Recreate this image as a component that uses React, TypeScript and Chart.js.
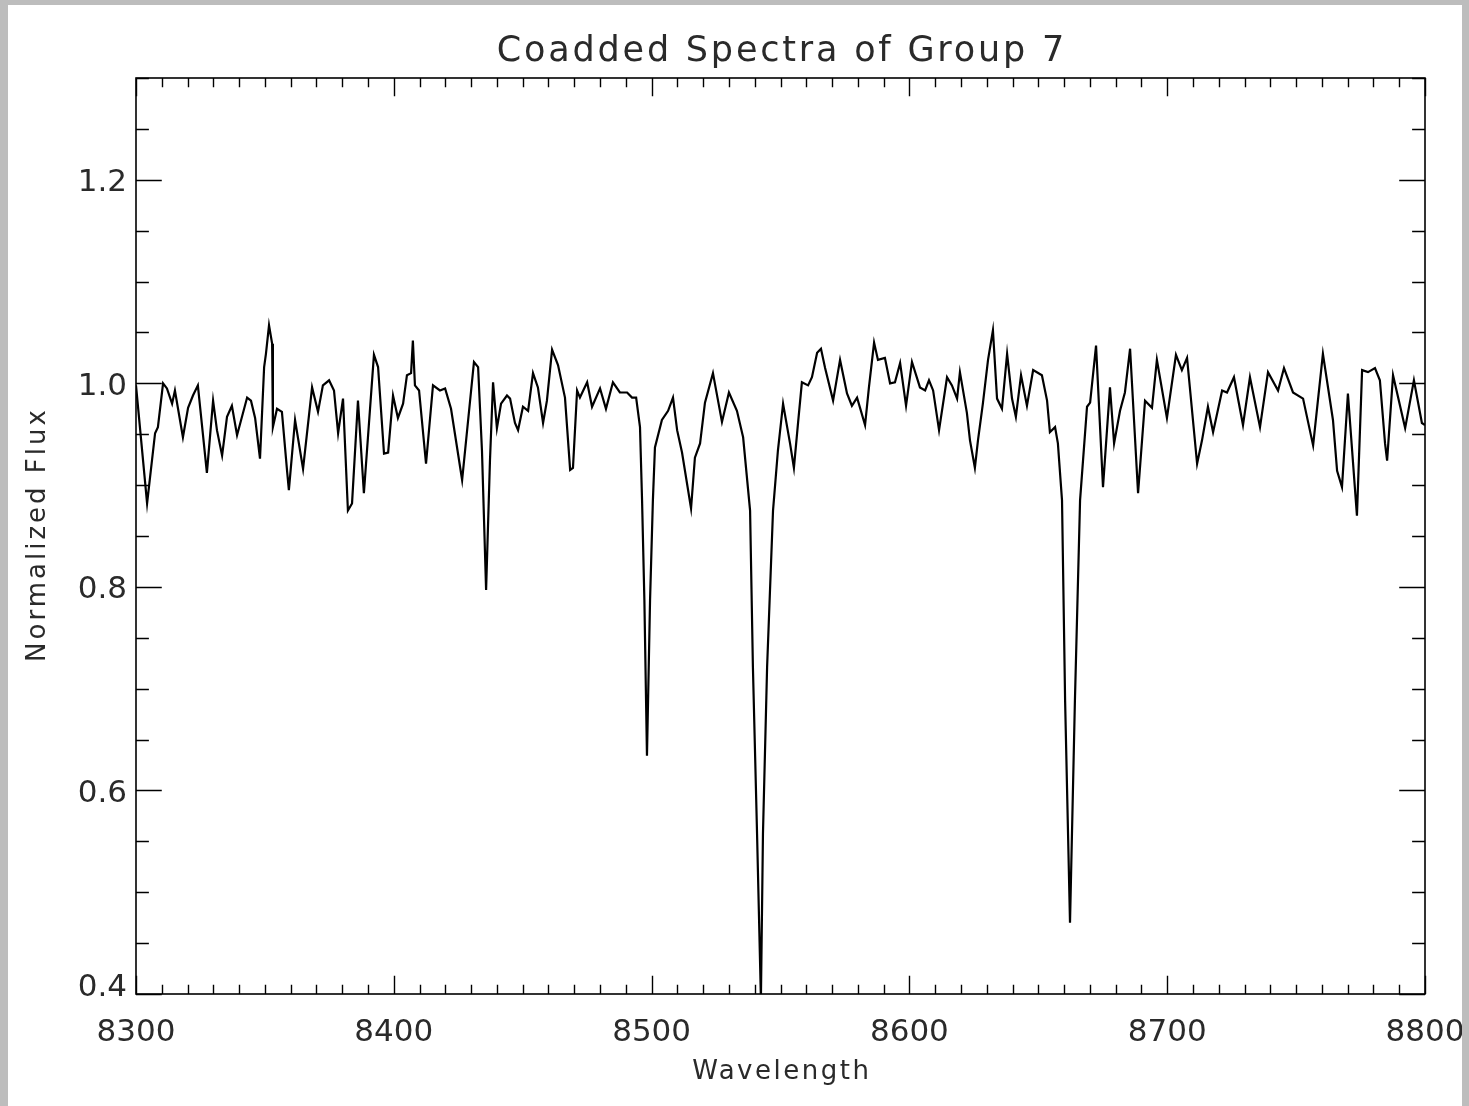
import React, { useEffect, useRef } from "react";
import { Chart, registerables } from "chart.js";

Chart.register(...registerables);

const titleText = "Coadded Spectra of Group 7";
const xAxisTitle = "Wavelength";
const yAxisTitle = "Normalized Flux";

const xMin = 8300;
const xMax = 8800;
const yMin = 0.4;
const yMax = 1.3;
const xTickValues = [8300, 8400, 8500, 8600, 8700, 8800];
const xTickLabels = ["8300", "8400", "8500", "8600", "8700", "8800"];
const yTickValues = [0.4, 0.6, 0.8, 1.0, 1.2];
const yTickLabels = ["0.4", "0.6", "0.8", "1.0", "1.2"];
const xMinorStep = 10;
const yMinorStep = 0.05;

const wavelengths = [
  8300.0, 8304.3, 8307.4, 8308.5, 8310.5, 8312.0, 8314.0, 8315.1, 8318.2, 8320.2,
  8322.1, 8324.0, 8327.5, 8329.9, 8331.4, 8333.4, 8335.3, 8337.2, 8339.2, 8343.1,
  8344.6, 8346.2, 8348.1, 8349.7, 8350.4, 8351.6, 8352.8, 8353.1, 8354.7, 8356.6,
  8358.6, 8359.3, 8361.7, 8364.8, 8368.3, 8370.6, 8372.5, 8374.9, 8376.8, 8378.4,
  8380.3, 8382.2, 8383.8, 8386.1, 8388.4, 8392.3, 8393.9, 8396.2, 8397.8, 8399.7,
  8401.6, 8403.6, 8405.1, 8406.7, 8407.4, 8408.2, 8409.8, 8412.5, 8415.2, 8417.9,
  8419.9, 8422.2, 8426.5, 8431.1, 8432.7, 8434.2, 8435.8, 8437.3, 8438.5, 8440.0,
  8441.6, 8443.9, 8445.1, 8447.0, 8448.2, 8450.1, 8452.1, 8454.0, 8455.9, 8457.9,
  8459.4, 8461.4, 8463.7, 8466.4, 8468.4, 8469.5, 8471.1, 8472.2, 8475.0, 8476.9,
  8480.0, 8482.3, 8485.0, 8487.7, 8490.5, 8492.4, 8494.0, 8495.5, 8496.3, 8497.2,
  8498.2, 8499.4, 8500.5, 8501.3, 8504.0, 8506.4, 8508.3, 8509.9, 8511.8, 8515.3,
  8516.8, 8518.8, 8520.7, 8523.8, 8527.3, 8530.0, 8533.1, 8535.5, 8538.2, 8539.3,
  8540.9, 8542.4, 8543.2, 8544.8, 8547.1, 8549.0, 8551.0, 8553.7, 8555.2, 8556.8,
  8558.3, 8560.7, 8562.2, 8564.2, 8565.7, 8567.3, 8570.4, 8573.1, 8575.8, 8577.7,
  8579.7, 8582.8, 8584.3, 8586.3, 8587.8, 8590.5, 8592.5, 8594.4, 8596.4, 8598.7,
  8601.0, 8604.1, 8606.1, 8607.6, 8609.2, 8611.5, 8614.6, 8616.5, 8618.5, 8619.6,
  8622.3, 8623.5, 8625.4, 8626.6, 8628.5, 8630.5, 8632.4, 8634.0, 8635.9, 8637.9,
  8639.8, 8641.3, 8643.3, 8645.6, 8648.0, 8651.4, 8653.4, 8654.5, 8656.5, 8657.6,
  8659.2, 8660.4, 8662.3, 8664.2, 8666.2, 8668.9, 8670.1, 8672.4, 8675.1, 8677.8,
  8679.4, 8681.7, 8683.6, 8685.6, 8688.7, 8691.4, 8694.1, 8696.0, 8699.9, 8703.4,
  8705.7, 8707.7, 8711.6, 8713.5, 8715.8, 8717.8, 8721.3, 8723.2, 8725.9, 8729.4,
  8732.1, 8736.0, 8739.1, 8743.0, 8745.3, 8748.8, 8752.7, 8756.6, 8760.4, 8764.3,
  8765.9, 8767.8, 8770.1, 8773.6, 8775.6, 8777.9, 8780.6, 8782.5, 8784.5, 8785.3,
  8787.6, 8792.3, 8795.7, 8798.8, 8800.0,
];

const flux = [
  0.998, 0.882, 0.951, 0.957, 1.000, 0.995, 0.980, 0.993, 0.947, 0.976,
  0.988, 0.998, 0.912, 0.983, 0.954, 0.929, 0.967, 0.978, 0.949, 0.986,
  0.983, 0.966, 0.926, 1.016, 1.029, 1.057, 1.039, 0.957, 0.975, 0.972,
  0.914, 0.895, 0.964, 0.916, 0.996, 0.972, 0.998, 1.003, 0.993, 0.951,
  0.985, 0.875, 0.882, 0.983, 0.892, 1.028, 1.016, 0.931, 0.932, 0.988,
  0.966, 0.980, 1.008, 1.010, 1.042, 0.998, 0.993, 0.921, 0.998, 0.993,
  0.995, 0.975, 0.905, 1.021, 1.016, 0.934, 0.797, 0.924, 1.001, 0.956,
  0.980, 0.988, 0.985, 0.961, 0.954, 0.977, 0.973, 1.010, 0.996, 0.961,
  0.983, 1.033, 1.018, 0.986, 0.915, 0.917, 0.993, 0.986, 1.001, 0.977,
  0.995, 0.975, 1.001, 0.991, 0.991, 0.986, 0.986, 0.957, 0.885, 0.787,
  0.634, 0.787, 0.885, 0.937, 0.964, 0.973, 0.986, 0.954, 0.932, 0.877,
  0.927, 0.941, 0.981, 1.010, 0.962, 0.991, 0.973, 0.947, 0.875, 0.721,
  0.558, 0.395, 0.558, 0.721, 0.875, 0.934, 0.980, 0.941, 0.917, 0.961,
  1.001, 0.998, 1.006, 1.030, 1.034, 1.015, 0.983, 1.023, 0.990, 0.978,
  0.986, 0.959, 0.996, 1.040, 1.023, 1.025, 1.000, 1.001, 1.020, 0.978,
  1.021, 0.996, 0.993, 1.003, 0.993, 0.954, 1.006, 0.998, 0.985, 1.011,
  0.971, 0.944, 0.917, 0.944, 0.980, 1.023, 1.052, 0.985, 0.975, 1.029,
  0.985, 0.967, 1.008, 0.978, 1.013, 1.008, 0.983, 0.952, 0.957, 0.941,
  0.885, 0.688, 0.470, 0.688, 0.885, 0.977, 0.981, 1.037, 0.898, 0.996,
  0.941, 0.973, 0.991, 1.034, 0.892, 0.983, 0.976, 1.023, 0.966, 1.028,
  1.013, 1.025, 0.921, 0.944, 0.977, 0.952, 0.993, 0.991, 1.006, 0.959,
  1.006, 0.957, 1.011, 0.993, 1.015, 0.991, 0.985, 0.939, 1.029, 0.964,
  0.914, 0.898, 0.990, 0.870, 1.013, 1.011, 1.015, 1.003, 0.941, 0.924,
  1.008, 0.956, 1.003, 0.961, 0.959,
];

const FONT = '"DejaVu Sans", sans-serif';

function drawText(
  ctx: CanvasRenderingContext2D,
  text: string,
  x: number,
  y: number,
  size: number,
  spacing: number,
  align: CanvasTextAlign
) {
  ctx.font = `${size}px ${FONT}`;
  (ctx as any).letterSpacing = `${spacing}px`;
  ctx.textAlign = "left";
  ctx.textBaseline = "alphabetic";
  const w = ctx.measureText(text).width - spacing;
  let sx = x;
  if (align === "center") sx = x - w / 2;
  else if (align === "right") sx = x - w;
  ctx.fillText(text, sx, y);
  (ctx as any).letterSpacing = "0px";
}

const idlAxesPlugin = {
  id: "idlAxes",
  afterDraw(chart: any) {
    const { ctx, chartArea, scales } = chart;
    const { left, right, top, bottom } = chartArea;
    const xs = scales.x;
    const ys = scales.y;
    ctx.save();
    ctx.strokeStyle = "#000";
    ctx.lineWidth = 1.6;
    ctx.strokeRect(left, top, right - left, bottom - top);

    const xMajorLen = 0.02 * (bottom - top);
    const yMajorLen = 0.02 * (right - left);
    ctx.lineWidth = 1.4;
    ctx.beginPath();
    const nx = Math.round((xMax - xMin) / xMinorStep);
    for (let i = 0; i <= nx; i++) {
      const v = xMin + i * xMinorStep;
      const px = Math.round(xs.getPixelForValue(v)) + 0.5;
      const major = i % 10 === 0;
      const len = major ? xMajorLen : xMajorLen / 2;
      ctx.moveTo(px, bottom);
      ctx.lineTo(px, bottom - len);
      ctx.moveTo(px, top);
      ctx.lineTo(px, top + len);
    }
    const ny = Math.round((yMax - yMin) / yMinorStep);
    for (let i = 0; i <= ny; i++) {
      const v = yMin + i * yMinorStep;
      const py = Math.round(ys.getPixelForValue(v)) + 0.5;
      const major = i % 4 === 0;
      const len = major ? yMajorLen : yMajorLen / 2;
      ctx.moveTo(left, py);
      ctx.lineTo(left + len, py);
      ctx.moveTo(right, py);
      ctx.lineTo(right - len, py);
    }
    ctx.stroke();

    ctx.fillStyle = "#2a2a2a";
    const tickSize = 31;
    const capHalf = (0.729 * tickSize) / 2;
    xTickValues.forEach((v, i) => {
      const px = xs.getPixelForValue(v);
      drawText(ctx, xTickLabels[i], px, bottom + 36 + capHalf, tickSize, 0, "center");
    });
    yTickValues.forEach((v, i) => {
      let py = ys.getPixelForValue(v);
      if (py > bottom - 9) py = bottom - 9;
      drawText(ctx, yTickLabels[i], left - 9, py + capHalf, tickSize, 0, "right");
    });

    const cx = (left + right) / 2;
    drawText(ctx, titleText, cx, top - 30 + 13, 35, 2.8, "center");
    drawText(ctx, xAxisTitle, cx, bottom + 76 + 9, 26, 2.5, "center");
    ctx.save();
    ctx.translate(28 + 9, (top + bottom) / 2);
    ctx.rotate(-Math.PI / 2);
    drawText(ctx, yAxisTitle, 0, 0, 26, 3, "center");
    ctx.restore();
    ctx.restore();
  },
};

export default function App() {
  const canvasRef = useRef<HTMLCanvasElement | null>(null);
  useEffect(() => {
    const canvas = canvasRef.current;
    if (!canvas) return;
    const points = wavelengths.map((w, i) => ({ x: w, y: flux[i] }));
    const chart = new Chart(canvas, {
      type: "line",
      data: {
        datasets: [
          {
            data: points,
            borderColor: "#000",
            borderWidth: 2.2,
            pointRadius: 0,
            tension: 0,
            fill: false,
          },
        ],
      },
      options: {
        responsive: false,
        animation: false,
        devicePixelRatio: 1,
        layout: { padding: { left: 128, right: 37, top: 73, bottom: 112 } },
        plugins: { legend: { display: false }, tooltip: { enabled: false }, title: { display: false } },
        scales: {
          x: { type: "linear", min: xMin, max: xMax, display: false },
          y: { type: "linear", min: yMin, max: yMax, display: false },
        },
      },
      plugins: [idlAxesPlugin],
    });
    return () => chart.destroy();
  }, []);

  return (
    <div
      style={{
        position: "fixed",
        left: 0,
        top: 0,
        width: 1469,
        height: 1106,
        background: "#bdbdbd",
      }}
    >
      <canvas
        ref={canvasRef}
        width={1454}
        height={1101}
        style={{ position: "absolute", left: 8, top: 5, width: 1454, height: 1101, background: "#fff" }}
      />
    </div>
  );
}
